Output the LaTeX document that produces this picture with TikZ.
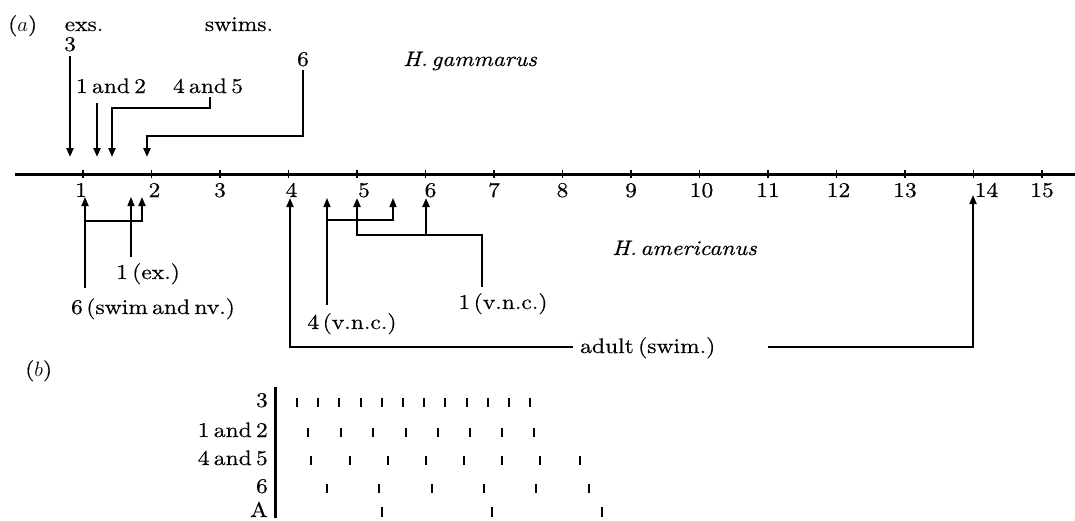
\documentclass[tikz,border=0pt]{standalone}
\usepackage{fontspec}
\setmainfont{lmroman10}[Extension=.otf, UprightFont=*-regular, ItalicFont=*-italic, FakeStretch=1.12, FakeBold=0.4, WordSpace=0.55]
\usetikzlibrary{arrows.meta}
\begin{document}
\begin{tikzpicture}[x=1pt,y=-1pt,
  lbl/.style={font=\fontsize{21}{24}\selectfont, inner sep=0pt},
  ilbl/.style={font=\fontsize{21}{24}\selectfont\itshape, inner sep=0pt},
  arr/.style={-{Triangle[length=9pt,width=7pt]}},
  thk/.style={line width=2.4pt},
  med/.style={line width=1.9pt},
  thn/.style={line width=1.3pt},
  axis/.style={line width=3pt},
  tk/.style={line width=1.2pt}]
\useasboundingbox (0,0) rectangle (1075,520);
% ---- (a) ----
\node[lbl, anchor=base west] (pa) at (8,31) {($a$)};
\node[lbl, anchor=base] (exs) at (84,31) {exs.};
\node[lbl, anchor=base] (swims) at (239,31) {swims.};
\node[ilbl, anchor=base west] (gam) at (403,66) {H.\,gammarus};
\node[ilbl, anchor=base west] (ame) at (612,255) {H.\,americanus};
% axis
\coordinate (axL) at (15,174);
\coordinate (axR) at (1075,174);
\draw[axis] (axL) -- (axR);
\foreach \n in {1,...,15}{
  \pgfmathsetmacro{\xx}{83+(\n-1)*68.5}
  \draw[tk] (\xx,170) -- (\xx,178);
}
\foreach \n/\dx in {1/-2,2/3,3/0,4/3,5/7,6/5,7/0,8/0,9/0,10/2,11/0,12/2,13/0,14/13,15/0}{
  \pgfmathsetmacro{\xx}{83+(\n-1)*68.5+\dx}
  \node[lbl, anchor=base] (tl\n) at (\xx,197) {\n};
}
% top arrows (H. gammarus)
\node[lbl, anchor=base] (g3) at (70,51) {3};
\node[lbl, anchor=base] (g12) at (111,93) {1 and 2};
\node[lbl, anchor=base] (g45) at (208,93) {4 and 5};
\node[lbl, anchor=base] (g6) at (303,66) {6};
\coordinate (g3s) at (70,56);   \coordinate (g3e) at (70,157);
\coordinate (g12s) at (97,103); \coordinate (g12e) at (97,157);
\coordinate (g45s) at (210,97); \coordinate (g45e) at (112,157);
\coordinate (g6s) at (303,70);  \coordinate (g6e) at (147,157);
\draw[thk,arr] (g3s) -- (g3e);
\draw[thk,arr] (g12s) -- (g12e);
\draw[thk,arr] (g45s) -- (210,108) -- (112,108) -- (g45e);
\draw[thk,arr] (g6s) -- (303,136) -- (147,136) -- (g6e);
% bottom arrows (H. americanus)
\node[lbl, anchor=base] (b1ex) at (148,279) {1 (ex.)};
\node[lbl, anchor=base] (b6) at (153,314) {6\,(swim and nv.)};
\node[lbl, anchor=base] (b4) at (352,329) {4\,(v.n.c.)};
\node[lbl, anchor=base] (b1v) at (503,309) {1\,(v.n.c.)};
\node[lbl, anchor=base west] (adult) at (580,353) {adult (swim.)};
\coordinate (b6s) at (85,288);  \coordinate (b6e) at (85,197);
\coordinate (b6f) at (142,197);
\draw[med,arr] (b6s) -- (b6e);
\draw[med,arr] (85,221) -- (142,221) -- (b6f);
\coordinate (b1s) at (131,257); \coordinate (b1e) at (131,197);
\draw[thn,arr] (b1s) -- (b1e);
\coordinate (adL) at (573,347); \coordinate (adR) at (768,347);
\draw[med,arr] (adL) -- (290,347) -- (290,198);
\draw[med,arr] (adR) -- (973,347) -- (973,195);
\coordinate (b4s) at (327,305);
\draw[thn,arr] (b4s) -- (327,198);
\draw[thn,arr] (327,220) -- (393,220) -- (393,198);
\coordinate (b1vs) at (482,287);
\draw[thk,arr] (b1vs) -- (482,235) -- (357,235) -- (357,198);
\draw[thk,arr] (426,235) -- (426,198);
% ---- (b) ----
\node[lbl, anchor=base west] (pb) at (25,376) {($b$)};
\coordinate (barT) at (275,387);
\coordinate (barB) at (275,518);
\draw[line width=3pt] (barT) -- (barB);
\node[lbl, anchor=base east] (r3) at (268,407) {3};
\node[lbl, anchor=base east] (r12) at (268,437) {1 and 2};
\node[lbl, anchor=base east] (r45) at (268,465) {4 and 5};
\node[lbl, anchor=base east] (r6) at (268,493) {6};
\node[lbl, anchor=base east] (rA) at (268,517) {A};
\foreach \x in {297,318,339,361,382,403,424,445,467,488,509,530}
  \draw[tk] (\x,398) -- (\x,407);
\foreach \x in {308,341,373,406,438,470,502,534}
  \draw[tk] (\x,428) -- (\x,437);
\foreach \x in {311,350,388,426,464,502,540,580}
  \draw[tk] (\x,456) -- (\x,465);
\foreach \x in {327,379,432,484,536,589}
  \draw[tk] (\x,484) -- (\x,493);
\foreach \x in {382,492,602}
  \draw[tk] (\x,507) -- (\x,517);
\end{tikzpicture}
\end{document}
